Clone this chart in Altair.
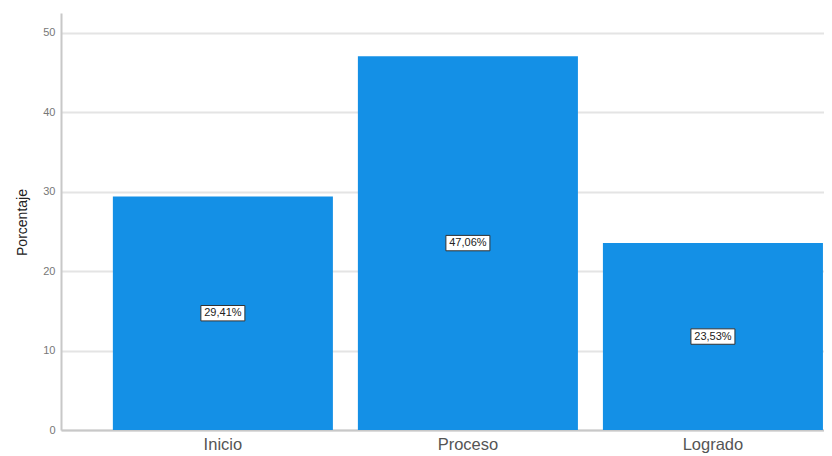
import altair as alt
import pandas as pd

categories = ["Inicio", "Proceso", "Logrado"]
values = [29.41, 47.06, 23.53]
labels = ["29,41%", "47,06%", "23,53%"]
y_ticks = [0, 10, 20, 30, 40, 50]

df = pd.DataFrame({"cat": categories, "val": values, "lab": labels})

FONT = "Liberation Sans"
BAR = "#1490e6"

x_enc = alt.X(
    "cat:N",
    sort=categories,
    title=None,
    scale=alt.Scale(paddingInner=0.102, paddingOuter=0.108, align=0.98),
    axis=alt.Axis(
        labelAngle=0, ticks=False, tickSize=0, labelPadding=6,
        labelFont=FONT, labelFontSize=16.5, labelColor="#555555",
        labelBaseline="top",
        domainColor="#c8c8c8", domainWidth=2, grid=False,
    ),
)

y_scale = alt.Scale(domain=[0, 52.5], nice=False, zero=True)

bars = alt.Chart(df).mark_bar(color=BAR).encode(
    x=x_enc,
    y=alt.Y(
        "val:Q",
        scale=y_scale,
        title="Porcentaje",
        axis=alt.Axis(
            values=y_ticks, ticks=False, tickSize=0, labelPadding=6,
            labelFont=FONT, labelFontSize=11, labelColor="#777777",
            domainColor="#c8c8c8", domainWidth=2,
            grid=True, gridColor="#e4e4e4", gridWidth=2,
            titleFont=FONT, titleFontSize=14, titleFontWeight="normal",
            titleColor="#222222", titleAngle=270, titleX=-32, titleY=209,
            titleBaseline="bottom", titleAlign="center",
        ),
    ),
)

base = alt.Chart(df).transform_calculate(mid="datum.val / 2")

boxes = base.mark_point(
    shape="M-1,-0.35H1V0.35H-1Z", size=1936, filled=True,
    fill="white", stroke="#333333", strokeWidth=1, opacity=1,
).encode(
    x=alt.X("cat:N", sort=categories),
    y=alt.Y("mid:Q", scale=y_scale),
)

texts = base.mark_text(
    font=FONT, fontSize=11, color="#222222", baseline="middle", align="center",
).encode(
    x=alt.X("cat:N", sort=categories),
    y=alt.Y("mid:Q", scale=y_scale),
    text="lab:N",
)

chart = (
    alt.layer(bars, boxes, texts)
    .properties(
        width=763, height=417,
        background="white",
        autosize=alt.AutoSizeParams(type="none"),
        padding={"left": 53, "top": 5, "right": 0, "bottom": 26},
    )
    .configure_view(strokeWidth=0, stroke="transparent")
)

chart.save("out.html", embed_options={"renderer": "svg", "actions": False})
